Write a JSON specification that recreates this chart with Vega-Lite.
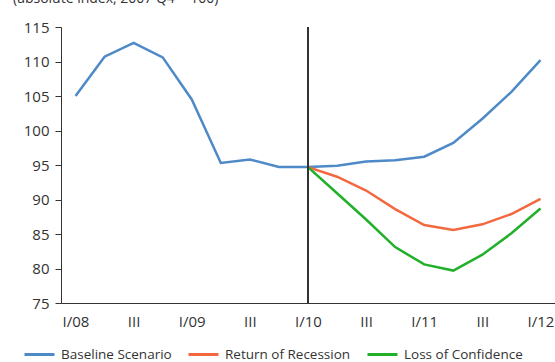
{
  "$schema": "https://vega.github.io/schema/vega-lite/v6.json",
  "width": 494,
  "height": 276,
  "autosize": {"type": "none"},
  "padding": {"left": 61, "top": 27, "right": 0, "bottom": 59},
  "background": "white",
  "title": {"text": "(absolute index, 2007 Q4 = 100)", "anchor": "start", "frame": "group", "dx": -48, "offset": 14, "fontSize": 14, "font": "Open Sans", "fontWeight": "normal", "color": "#333"},
  "config": {"view": {"stroke": null}, "font": "Open Sans"},
  "data": {"values": [
    {"q": "I/08", "s": "Baseline Scenario", "v": 105.0},
    {"q": "II/08", "s": "Baseline Scenario", "v": 110.7},
    {"q": "III/08", "s": "Baseline Scenario", "v": 112.7},
    {"q": "IV/08", "s": "Baseline Scenario", "v": 110.6},
    {"q": "I/09", "s": "Baseline Scenario", "v": 104.5},
    {"q": "II/09", "s": "Baseline Scenario", "v": 95.3},
    {"q": "III/09", "s": "Baseline Scenario", "v": 95.8},
    {"q": "IV/09", "s": "Baseline Scenario", "v": 94.7},
    {"q": "I/10", "s": "Baseline Scenario", "v": 94.7},
    {"q": "II/10", "s": "Baseline Scenario", "v": 94.9},
    {"q": "III/10", "s": "Baseline Scenario", "v": 95.5},
    {"q": "IV/10", "s": "Baseline Scenario", "v": 95.7},
    {"q": "I/11", "s": "Baseline Scenario", "v": 96.2},
    {"q": "II/11", "s": "Baseline Scenario", "v": 98.2},
    {"q": "III/11", "s": "Baseline Scenario", "v": 101.7},
    {"q": "IV/11", "s": "Baseline Scenario", "v": 105.6},
    {"q": "I/12", "s": "Baseline Scenario", "v": 110.2},
    {"q": "I/10", "s": "Return of Recession", "v": 94.7},
    {"q": "II/10", "s": "Return of Recession", "v": 93.3},
    {"q": "III/10", "s": "Return of Recession", "v": 91.3},
    {"q": "IV/10", "s": "Return of Recession", "v": 88.6},
    {"q": "I/11", "s": "Return of Recession", "v": 86.3},
    {"q": "II/11", "s": "Return of Recession", "v": 85.6},
    {"q": "III/11", "s": "Return of Recession", "v": 86.4},
    {"q": "IV/11", "s": "Return of Recession", "v": 87.9},
    {"q": "I/12", "s": "Return of Recession", "v": 90.1},
    {"q": "I/10", "s": "Loss of Confidence", "v": 94.7},
    {"q": "II/10", "s": "Loss of Confidence", "v": 90.9},
    {"q": "III/10", "s": "Loss of Confidence", "v": 87.1},
    {"q": "IV/10", "s": "Loss of Confidence", "v": 83.1},
    {"q": "I/11", "s": "Loss of Confidence", "v": 80.6},
    {"q": "II/11", "s": "Loss of Confidence", "v": 79.7},
    {"q": "III/11", "s": "Loss of Confidence", "v": 82.0},
    {"q": "IV/11", "s": "Loss of Confidence", "v": 85.1},
    {"q": "I/12", "s": "Loss of Confidence", "v": 88.7}
  ]},
  "layer": [
    {
      "mark": {"type": "line", "strokeWidth": 2.5},
      "encoding": {
        "x": {"field": "q", "type": "ordinal", "sort": null,
          "scale": {"type": "point", "padding": 0.5, "domain": ["I/08","II/08","III/08","IV/08","I/09","II/09","III/09","IV/09","I/10","II/10","III/10","IV/10","I/11","II/11","III/11","IV/11","I/12"]},
          "axis": {"title": null, "values": ["I/08","III/08","I/09","III/09","I/10","III/10","I/11","III/11","I/12"], "labelExpr": "indexof(datum.value, 'III') == 0 ? 'III' : datum.value", "labelAngle": 0, "ticks": false, "domainColor": "#333", "domainWidth": 1, "labelFontSize": 15, "labelColor": "#333", "labelPadding": 11, "grid": false}},
        "y": {"field": "v", "type": "quantitative",
          "scale": {"domain": [75, 115], "nice": false, "zero": false},
          "axis": {"title": null, "values": [75,80,85,90,95,100,105,110,115], "tickSize": 6, "tickColor": "#333", "domainColor": "#333", "labelFontSize": 15, "labelColor": "#333", "labelPadding": 6, "grid": false}},
        "color": {"field": "s", "type": "nominal",
          "scale": {"domain": ["Baseline Scenario", "Return of Recession", "Loss of Confidence"], "range": ["#4E8AC8", "#F4683F", "#22B02A"]},
          "legend": {"title": null, "orient": "none", "legendX": -38, "legendY": 311, "padding": 0, "direction": "horizontal", "symbolType": "stroke", "symbolStrokeWidth": 3, "symbolSize": 900, "labelFontSize": 13.5, "labelColor": "#333", "columnPadding": 10, "labelOffset": 5}}
      }
    },
    {
      "mark": {"type": "rule", "color": "#333", "strokeWidth": 1},
      "encoding": {"x": {"datum": "I/10"}}
    }
  ]
}
